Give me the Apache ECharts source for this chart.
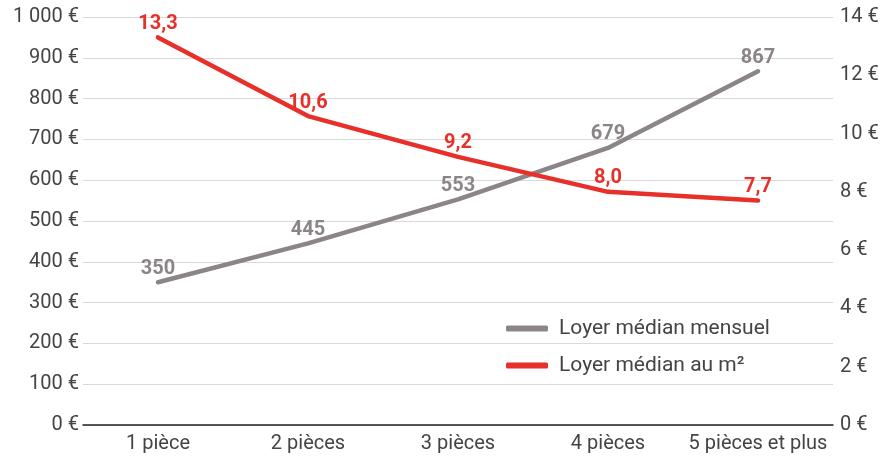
<!DOCTYPE html>
<html><head><meta charset="utf-8">
<script src="https://cdn.jsdelivr.net/npm/echarts@6/dist/echarts.min.js"></script>
<style>html,body{margin:0;padding:0;background:#fff}#c{width:893px;height:459px}</style>
</head><body><div id="c"></div>
<script>
const categories = ['1 pièce', '2 pièces', '3 pièces', '4 pièces', '5 pièces et plus'];
const loyerMensuel = [350, 445, 553, 679, 867];
const loyerM2 = [13.3, 10.6, 9.2, 8.0, 7.7];
const seriesNames = ['Loyer médian mensuel', 'Loyer médian au m²'];

const chart = echarts.init(document.getElementById('c'));
const font = 'Roboto';
const grey = '#8b8589';
const red = '#e8302a';
chart.setOption({
  animation: false,
  grid: {left: 83, right: 60, top: 17, bottom: 34},
  legend: {
    orient: 'vertical', left: 501, top: 313, itemGap: 16,
    itemWidth: 42, itemHeight: 6, icon: 'roundRect',
    textStyle: {fontFamily: font, fontSize: 21, color: '#444', padding: [0, 0, 0, 6]},
    data: seriesNames
  },
  xAxis: {
    type: 'category', data: categories,
    axisLine: {lineStyle: {color: '#222', width: 1.5}},
    axisTick: {show: false},
    axisLabel: {fontFamily: font, fontSize: 20, color: '#444', margin: 9, interval: 0}
  },
  yAxis: [{
    type: 'value', min: 0, max: 1000, interval: 100,
    axisLine: {show: false}, axisTick: {show: false},
    splitLine: {lineStyle: {color: '#d9d9d9', width: 1}},
    axisLabel: {fontFamily: font, fontSize: 20, color: '#444', margin: 4,
      formatter: v => (v >= 1000 ? Math.floor(v/1000) + ' ' + String(v%1000).padStart(3,'0') : v) + ' €'}
  }, {
    type: 'value', min: 0, max: 14, interval: 2,
    axisLine: {show: false}, axisTick: {show: false},
    splitLine: {show: false},
    axisLabel: {fontFamily: font, fontSize: 20, color: '#444', margin: 7,
      formatter: v => v + ' €'}
  }],
  series: [{
    name: seriesNames[0], type: 'line', data: loyerMensuel, yAxisIndex: 0,
    symbol: 'circle', symbolSize: 1, showSymbol: true,
    lineStyle: {color: grey, width: 4.5, cap: 'round'},
    itemStyle: {color: grey},
    label: {show: true, position: 'top', distance: 3, fontFamily: font, fontWeight: 'bold', fontSize: 20, color: grey}
  }, {
    name: seriesNames[1], type: 'line', data: loyerM2, yAxisIndex: 1,
    symbol: 'circle', symbolSize: 1, showSymbol: true,
    lineStyle: {color: red, width: 4.5, cap: 'round'},
    itemStyle: {color: red},
    label: {show: true, position: 'top', distance: 3, fontFamily: font, fontWeight: 'bold', fontSize: 20, color: red,
      formatter: p => p.value.toFixed(1).replace('.', ',')}
  }]
});
</script></body></html>
